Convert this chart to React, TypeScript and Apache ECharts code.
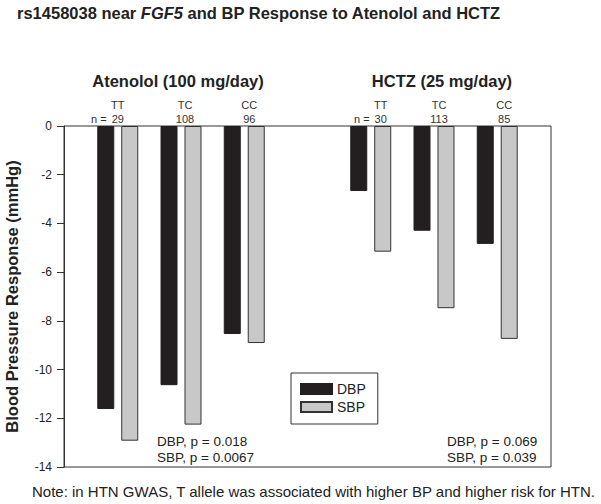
import React, { useEffect, useRef } from "react";
import * as echarts from "echarts";

const genotypes = ["TT", "TC", "CC"];
const drugs = ["Atenolol (100 mg/day)", "HCTZ (25 mg/day)"];
const atenololX = [0, 1, 2];
const hctzX = [4, 5, 6];
const atenololN = [29, 108, 96];
const hctzN = [30, 113, 85];
const atenololDBP = [-11.62, -10.64, -8.54];
const atenololSBP = [-12.92, -12.26, -8.91];
const hctzDBP = [-2.67, -4.3, -4.84];
const hctzSBP = [-5.16, -7.48, -8.74];
const atenololP = ["DBP, p = 0.018", "SBP, p = 0.0067"];
const hctzP = ["DBP, p = 0.069", "SBP, p = 0.039"];
const yTicks = { min: -14, max: 0, interval: 2 };

const FONT = "'Liberation Sans', Arial, Helvetica, sans-serif";

export default function App() {
  const ref = useRef<HTMLDivElement>(null);
  useEffect(() => {
    if (!ref.current) return;
    const chart = echarts.init(ref.current, null, { renderer: "svg" });
    const dbp = [
      ...atenololX.map((x, i) => [x, atenololDBP[i]]),
      ...hctzX.map((x, i) => [x, hctzDBP[i]]),
    ];
    const sbp = [
      ...atenololX.map((x, i) => [x, atenololSBP[i]]),
      ...hctzX.map((x, i) => [x, hctzSBP[i]]),
    ];
    chart.setOption({
      animation: false,
      textStyle: { fontFamily: FONT },
      title: {
        left: 17,
        top: 4,
        padding: 0,
        text: "{a|rs1458038 near }{b|FGF5}{a| and BP Response to Atenolol and HCTZ}",
        textStyle: {
          rich: {
            a: { fontFamily: FONT, fontSize: 16.5, fontWeight: "bold", color: "#222" },
            b: { fontFamily: FONT, fontSize: 16.5, fontWeight: "bold", fontStyle: "italic", color: "#222" },
          },
        },
      },
      grid: {
        left: 64,
        right: 50,
        top: 126,
        bottom: 37,
        containLabel: false,
        outerBoundsMode: "none",
        show: true,
        borderColor: "#333",
        borderWidth: 1,
        backgroundColor: "transparent",
      },
      legend: {
        orient: "vertical",
        left: 291,
        top: 373,
        padding: [9, 12, 10, 9],
        borderColor: "#333",
        borderWidth: 1,
        icon: "rect",
        itemWidth: 31,
        itemHeight: 10,
        itemGap: 4,
        textStyle: { fontFamily: FONT, fontSize: 14, color: "#222" },
        data: ["DBP", "SBP"],
      },
      xAxis: {
        type: "value",
        min: -0.85,
        max: 6.85,
        show: false,
        splitLine: { show: false },
      },
      yAxis: {
        type: "value",
        min: yTicks.min,
        max: yTicks.max,
        interval: yTicks.interval,
        name: "Blood Pressure Response (mmHg)",
        nameLocation: "middle",
        nameRotate: 90,
        nameGap: 44,
        nameTextStyle: { fontFamily: FONT, fontSize: 16.5, fontWeight: "bold", color: "#222" },
        axisLine: { show: true, onZero: false, lineStyle: { color: "#333" } },
        axisTick: { show: true, inside: false, length: 7, lineStyle: { color: "#333" } },
        axisLabel: { fontFamily: FONT, fontSize: 12, color: "#222", margin: 12 },
        splitLine: { show: false },
      },
      series: [
        {
          name: "DBP",
          type: "bar",
          data: dbp,
          barWidth: 17,
          barGap: "41%",
          itemStyle: { color: "#231f20", borderColor: "#231f20", borderWidth: 1 },
        },
        {
          name: "SBP",
          type: "bar",
          data: sbp,
          barWidth: 17,
          barGap: "41%",
          itemStyle: { color: "#c8c8c8", borderColor: "#333", borderWidth: 1 },
        },
      ],
    });

    const px = (x: number, y: number) => chart.convertToPixel({ gridIndex: 0 }, [x, y]) as number[];
    const labelStyle = { fontFamily: FONT, fontSize: 11, fill: "#333" };
    const els: any[] = [];
    const groups = [
      { xs: atenololX, n: atenololN, offs: [0, 4, 5] },
      { xs: hctzX, n: hctzN, offs: [10, 5, 7] },
    ];
    groups.forEach((g, gi) => {
      g.xs.forEach((x, i) => {
        const cx = px(x, 0)[0] + g.offs[i];
        els.push({
          type: "text",
          x: cx,
          y: 105,
          style: { ...labelStyle, text: genotypes[i], align: "center", verticalAlign: "middle" },
        });
        els.push({
          type: "text",
          x: cx,
          y: 119,
          style: { ...labelStyle, text: String(g.n[i]), align: "center", verticalAlign: "middle" },
        });
        if (i === 0) {
          els.push({
            type: "text",
            x: cx - 8,
            y: 119,
            style: { ...labelStyle, text: "n = ", align: "right", verticalAlign: "middle" },
          });
        }
      });
      const mid = px(g.xs[1], 0)[0] + (gi === 0 ? -3 : 8);
      els.push({
        type: "text",
        x: mid,
        y: 81,
        style: {
          fontFamily: FONT,
          fontSize: 16.5,
          fontWeight: "bold",
          fill: "#222",
          text: drugs[gi],
          align: "center",
          verticalAlign: "middle",
        },
      });
    });
    const pSets = [
      { lines: atenololP, x: 157 },
      { lines: hctzP, x: 447 },
    ];
    pSets.forEach((p) => {
      p.lines.forEach((t, i) => {
        els.push({
          type: "text",
          x: p.x,
          y: 441 + i * 16,
          style: { fontFamily: FONT, fontSize: 13.5, fill: "#222", text: t, align: "left", verticalAlign: "middle" },
        });
      });
    });
    els.push({
      type: "text",
      x: 32,
      y: 491,
      style: {
        fontFamily: FONT,
        fontSize: 15,
        fill: "#222",
        text: "Note: in HTN GWAS, T allele was associated with higher BP and higher risk for HTN.",
        align: "left",
        verticalAlign: "middle",
      },
    });
    chart.setOption({ graphic: { elements: els } });

    return () => chart.dispose();
  }, []);
  return (
    <div
      ref={ref}
      style={{ position: "fixed", left: 0, top: 0, width: 601, height: 504, background: "#fff" }}
    />
  );
}
